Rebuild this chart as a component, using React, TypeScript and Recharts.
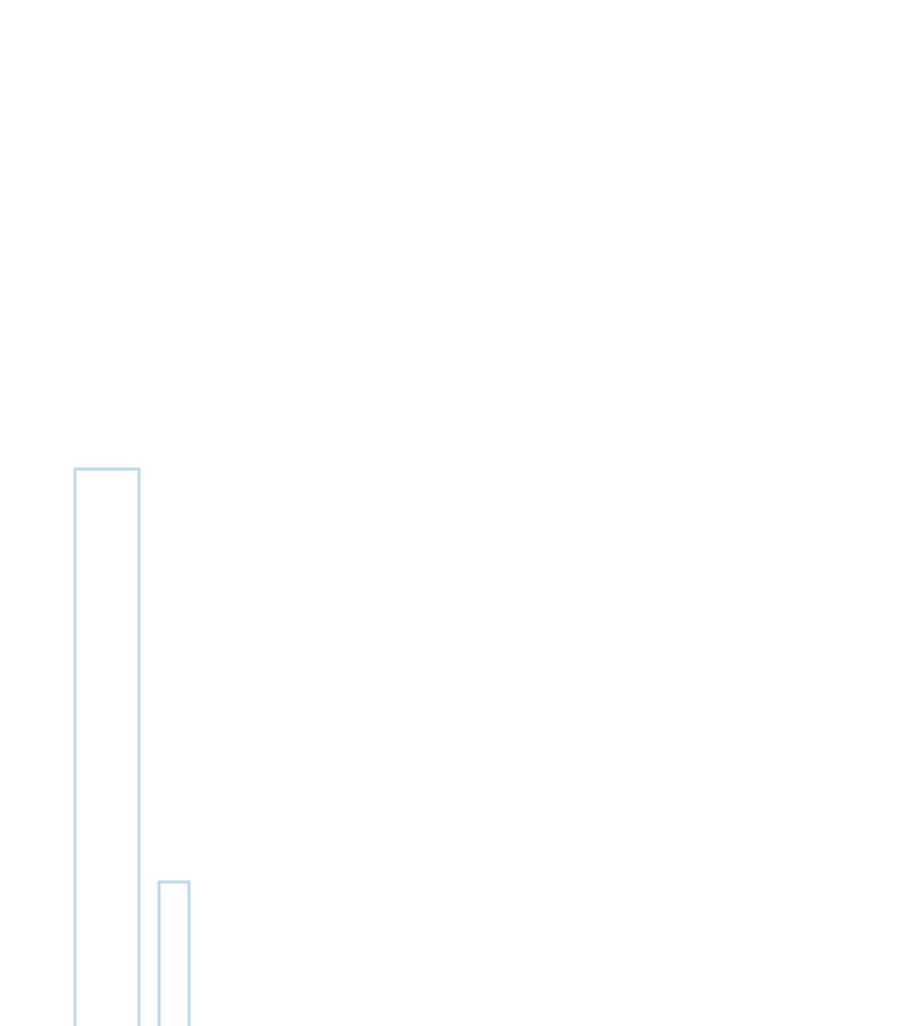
import { Bar, BarChart, XAxis, YAxis } from 'recharts';

const CATEGORIES = ['A'];
const SERIES_ONE = [100];
const SERIES_TWO = [50];

const data = CATEGORIES.map((name, i) => ({
  name,
  first: SERIES_ONE[i],
  second: SERIES_TWO[i],
}));

export default function App() {
  return (
    <div
      style={{
        position: 'absolute',
        top: 0,
        left: 0,
        width: 900,
        height: 1026,
        overflow: 'hidden',
        background: '#ffffff',
      }}
    >
      <BarChart
        width={900}
        height={1295}
        data={data}
        barGap={20}
        margin={{ top: 469, right: 636, left: 0, bottom: 0 }}
      >
        <XAxis dataKey="name" hide />
        <YAxis domain={[0, 100]} hide />
        <Bar
          dataKey="first"
          barSize={64}
          fill="#ffffff"
          stroke="#b9d9ea"
          strokeWidth={3}
          isAnimationActive={false}
        />
        <Bar
          dataKey="second"
          barSize={30}
          fill="#ffffff"
          stroke="#b9d9ea"
          strokeWidth={3}
          isAnimationActive={false}
        />
      </BarChart>
    </div>
  );
}
